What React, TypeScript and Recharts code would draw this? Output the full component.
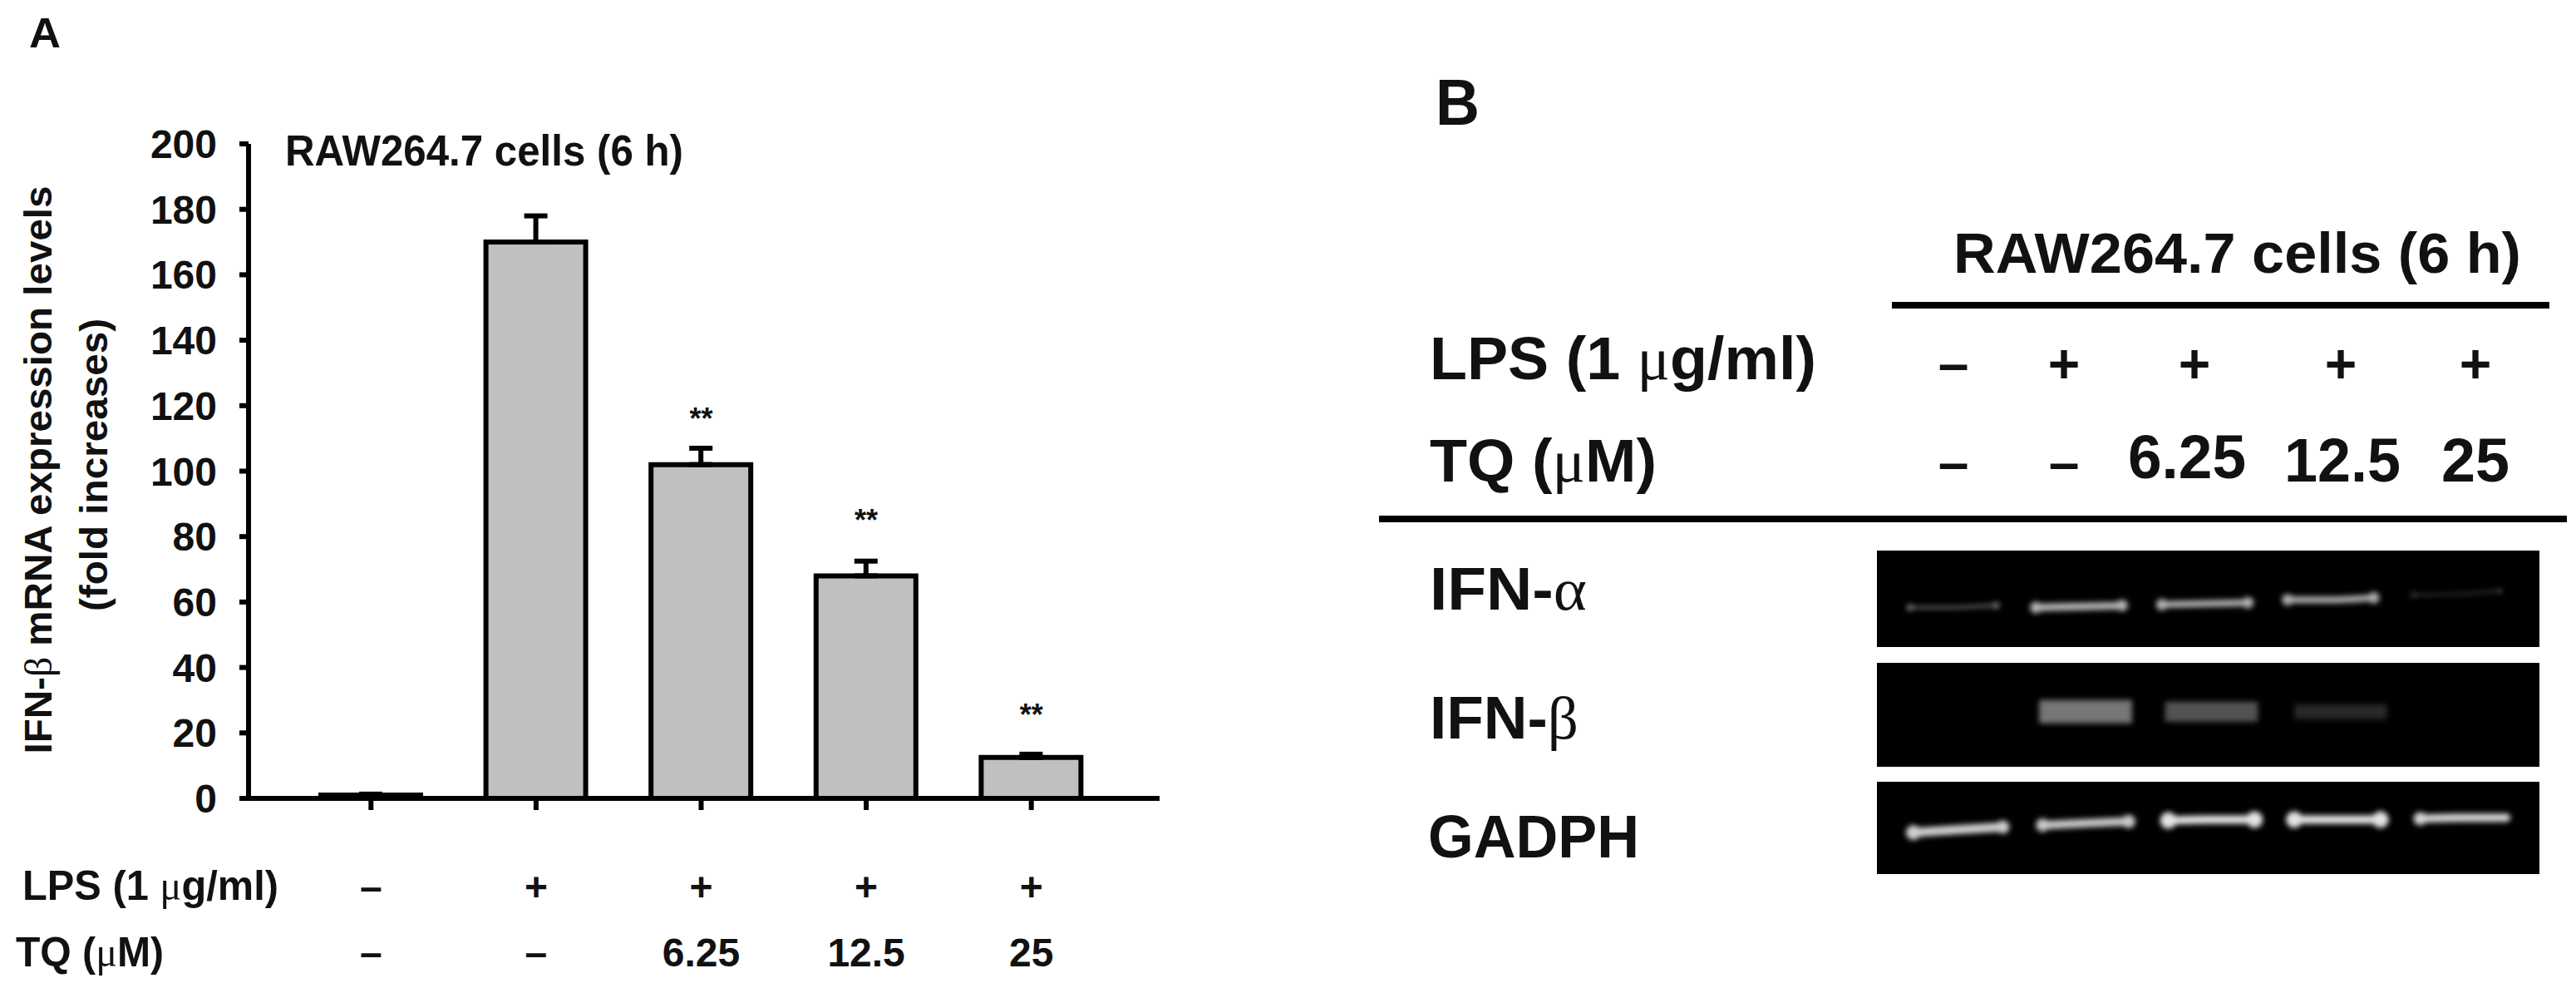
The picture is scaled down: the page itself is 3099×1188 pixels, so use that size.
import React from 'react';
import {
  Bar,
  ComposedChart,
  ErrorBar,
  LabelList,
  Line,
  LineChart,
  XAxis,
  YAxis,
} from 'recharts';

const FONT = '"Liberation Sans", Arial, sans-serif';
const GREEK = '"Liberation Serif", serif';

// Panel A
const groups = ['Control', 'LPS', 'TQ 6.25', 'TQ 12.5', 'TQ 25'];
const foldIncrease = [1, 170, 102, 68, 12.5];
const errorUp = [0.3, 8, 5, 4.5, 1];
const significance = ['', '', '**', '**', '**'];
const significanceAt = [null, null, 116, 85, 25.5];
const yTicks = [0, 20, 40, 60, 80, 100, 120, 140, 160, 180, 200];
const lpsRow = ['–', '+', '+', '+', '+'];
const tqRow = ['–', '–', '6.25', '12.5', '25'];

const barData = groups.map((group, i) => ({
  group,
  value: foldIncrease[i],
  err: [0, errorUp[i]],
  sig: significance[i],
  sigAt: significanceAt[i],
}));

// Panel B: bands as % of the gel picture, x from the left and y from the top.
// r is the bright blob at the end of a band
type Pt = { x: number; y: number; r?: number };
type Band = { color: string; width: number; points: Pt[] };

const ifnAlphaBands: Band[] = [
  { color: '#7a7a7a', width: 3, points: [{ x: 5, y: 59, r: 4 }, { x: 11, y: 59 }, { x: 18, y: 57, r: 4 }] },
  { color: '#b4b4b4', width: 9, points: [{ x: 24, y: 59, r: 7 }, { x: 31, y: 58 }, { x: 37, y: 57, r: 7 }] },
  { color: '#b0b0b0', width: 8, points: [{ x: 43, y: 56, r: 7 }, { x: 50, y: 55 }, { x: 56, y: 54, r: 7 }] },
  { color: '#acacac', width: 8, points: [{ x: 62, y: 51, r: 7 }, { x: 69, y: 51 }, { x: 75, y: 49, r: 7 }] },
  { color: '#4c4c4c', width: 2, points: [{ x: 81, y: 46, r: 3 }, { x: 88, y: 45 }, { x: 94, y: 42, r: 3 }] },
];

const ifnBetaBands: Band[] = [
  { color: '#767676', width: 28, points: [{ x: 24.5, y: 47 }, { x: 38.5, y: 47 }] },
  { color: '#525252', width: 24, points: [{ x: 43.5, y: 47 }, { x: 57.5, y: 47 }] },
  { color: '#282828', width: 18, points: [{ x: 63, y: 47 }, { x: 77, y: 47 }] },
];

const gadphBands: Band[] = [
  { color: '#cfcfcf', width: 11, points: [{ x: 5.5, y: 55, r: 9 }, { x: 12, y: 52 }, { x: 19, y: 49, r: 8 }] },
  { color: '#cacaca', width: 10, points: [{ x: 25, y: 47, r: 8 }, { x: 31, y: 45 }, { x: 38, y: 43, r: 8 }] },
  { color: '#e4e4e4', width: 10, points: [{ x: 44, y: 42, r: 10 }, { x: 50, y: 41 }, { x: 57, y: 41, r: 10 }] },
  { color: '#e4e4e4', width: 10, points: [{ x: 63, y: 41, r: 10 }, { x: 69, y: 41 }, { x: 76, y: 41, r: 10 }] },
  { color: '#d4d4d4', width: 10, points: [{ x: 82, y: 40, r: 8 }, { x: 88, y: 39 }, { x: 95, y: 39, r: 5 }] },
];

// two rows of treatment labels under each bar
const TreatmentTick = ({ x, payload, index }: any) => {
  const i = index ?? payload.index;
  return (
    <g fontFamily={FONT} fontWeight="bold" fontSize={48} fill="#111" textAnchor="middle">
      <text x={x} y={1083}>{lpsRow[i]}</text>
      <text x={x} y={1162}>{tqRow[i]}</text>
    </g>
  );
};

const bandDot = (color: string) => (props: any) => {
  const { cx, cy, payload, key } = props;
  if (!payload.r) return <g key={key} />;
  return <circle key={key} cx={cx} cy={cy} r={payload.r} fill={color} />;
};

function Gel({ bands, top, height }: { bands: Band[]; top: number; height: number }) {
  return (
    <div style={{ position: 'absolute', left: 2258, top, width: 797, height, background: '#000', overflow: 'hidden' }}>
      <div style={{ filter: 'blur(3px)' }}>
        <LineChart width={797} height={height} margin={{ top: 0, right: 0, bottom: 0, left: 0 }}>
          <XAxis hide type="number" dataKey="x" domain={[0, 100]} />
          <YAxis hide reversed domain={[0, 100]} />
          {bands.map((band, i) => (
            <Line
              key={i}
              data={band.points}
              dataKey="y"
              type="monotone"
              stroke={band.color}
              strokeWidth={band.width}
              strokeLinecap="butt"
              dot={bandDot(band.color)}
              activeDot={false}
              isAnimationActive={false}
            />
          ))}
        </LineChart>
      </div>
    </div>
  );
}

function Txt({ x, y, w, size, children, weight = 'bold', anchor = 'start' }: any) {
  return (
    <text
      x={x}
      y={y}
      fontSize={size}
      fontWeight={weight}
      fontFamily={FONT}
      fill="#111"
      textAnchor={anchor}
      textLength={w}
      lengthAdjust={w ? 'spacingAndGlyphs' : undefined}
    >
      {children}
    </text>
  );
}

const Gr = ({ children }: any) => (
  <tspan fontFamily={GREEK} fontWeight="normal">{children}</tspan>
);

export default function App() {
  return (
    <div style={{ position: 'absolute', left: 0, top: 0, width: 3099, height: 1188, background: '#fff', overflow: 'hidden' }}>
      <div style={{ position: 'absolute', left: 0, top: 0 }}>
        <ComposedChart
          width={1500}
          height={1188}
          data={barData}
          margin={{ top: 173, right: 105, bottom: 48, left: 149 }}
        >
          <XAxis
            dataKey="group"
            interval={0}
            height={180}
            padding={{ left: 48, right: 55 }}
            stroke="#000"
            strokeWidth={6}
            tickSize={14}
            tick={<TreatmentTick />}
          />
          <YAxis
            width={150}
            domain={[0, 200]}
            ticks={yTicks}
            interval={0}
            stroke="#000"
            strokeWidth={6}
            tickSize={11}
            tickMargin={27}
            tick={{ fontSize: 48, fontWeight: 'bold', fontFamily: FONT, fill: '#111' }}
          />
          <Bar dataKey="value" barSize={120} fill="#C0C0C0" stroke="#000" strokeWidth={6} isAnimationActive={false}>
            <ErrorBar dataKey="err" direction="y" width={14} stroke="#000" strokeWidth={6} isAnimationActive={false} />
          </Bar>
          <Line dataKey="sigAt" stroke="none" dot={false} activeDot={false} legendType="none" isAnimationActive={false}>
            <LabelList dataKey="sig" position="center" fontSize={36} fontWeight="bold" fontFamily={FONT} fill="#111" />
          </Line>
        </ComposedChart>
      </div>

      <Gel bands={ifnAlphaBands} top={662} height={116} />
      <Gel bands={ifnBetaBands} top={797} height={125} />
      <Gel bands={gadphBands} top={940} height={111} />

      <svg width={3099} height={1188} style={{ position: 'absolute', left: 0, top: 0, pointerEvents: 'none' }}>
        <Txt x={35} y={57} size={50} w={38}>A</Txt>
        <Txt x={343} y={199} size={52} w={479}>RAW264.7 cells (6 h)</Txt>
        <g transform="translate(62 565) rotate(-90)">
          <Txt x={0} y={0} size={46} w={683} anchor="middle">IFN-<Gr>β</Gr> mRNA expression levels</Txt>
        </g>
        <g transform="translate(129 559) rotate(-90)">
          <Txt x={0} y={0} size={46} w={352} anchor="middle">(fold increases)</Txt>
        </g>
        <Txt x={27} y={1082} size={50} w={308}>LPS (1 <Gr>μ</Gr>g/ml)</Txt>
        <Txt x={19} y={1162} size={50} w={178}>TQ (<Gr>μ</Gr>M)</Txt>

        <Txt x={1727} y={150} size={78} w={53}>B</Txt>
        <Txt x={2350} y={328} size={68} w={683}>RAW264.7 cells  (6 h)</Txt>
        <rect x={2276} y={363} width={791} height={8} fill="#000" />
        <Txt x={1720} y={456} size={72} w={465}>LPS (1 <Gr>μ</Gr>g/ml)</Txt>
        {['–', '+', '+', '+', '+'].map((mark, i) => (
          <Txt key={i} x={[2350, 2483, 2640, 2816, 2978][i]} y={460} size={66} anchor="middle">{mark}</Txt>
        ))}
        <Txt x={1720} y={579} size={72} w={273}>TQ (<Gr>μ</Gr>M)</Txt>
        <Txt x={2350} y={579} size={66} anchor="middle">–</Txt>
        <Txt x={2483} y={579} size={66} anchor="middle">–</Txt>
        <Txt x={2631} y={575} size={74} w={142} anchor="middle">6.25</Txt>
        <Txt x={2818} y={579} size={74} w={140} anchor="middle">12.5</Txt>
        <Txt x={2978} y={579} size={74} w={82} anchor="middle">25</Txt>
        <rect x={1659} y={620} width={1429} height={8} fill="#000" />
        <Txt x={1720} y={733} size={72} w={189}>IFN-<Gr>α</Gr></Txt>
        <Txt x={1720} y={888} size={72} w={179}>IFN-<Gr>β</Gr></Txt>
        <Txt x={1718} y={1031} size={72} w={254}>GADPH</Txt>
      </svg>
    </div>
  );
}
